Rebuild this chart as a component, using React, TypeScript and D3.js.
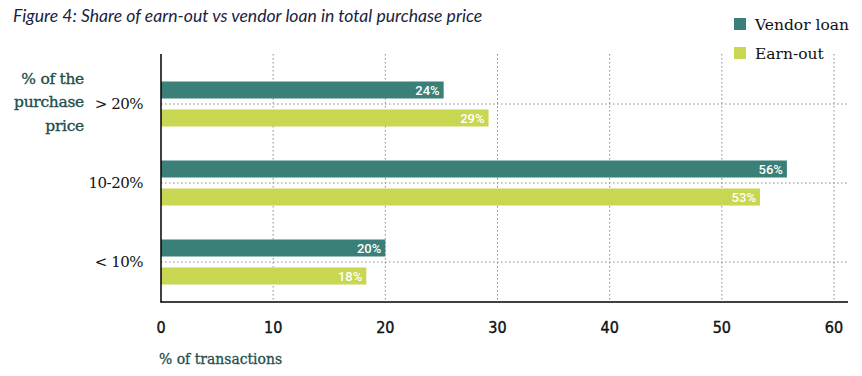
import React from "react";
import * as d3 from "d3";

const categories = ["> 20%", "10-20%", "< 10%"];
const vendorLoan = [25.2, 55.8, 20.0];
const earnOut = [29.2, 53.4, 18.3];
const vendorLabels = ["24%", "56%", "20%"];
const earnLabels = ["29%", "53%", "18%"];
const xTicks = [0, 10, 20, 30, 40, 50, 60];
const seriesNames = ["Vendor loan", "Earn-out"];
const colors = ["#3a8078", "#c8d651"];

const W = 862;
const H = 376;

export default function App() {
  const x = d3.scaleLinear().domain([0, 60]).range([161, 834]);
  const y = d3.scaleBand<string>().domain(categories).range([64.5, 301.5]);
  const top = 54;
  const bottom = 302;
  const barH = 17;
  const gap = 11;

  const series = [
    { vals: vendorLoan, labels: vendorLabels, color: colors[0], off: -gap / 2 - barH },
    { vals: earnOut, labels: earnLabels, color: colors[1], off: gap / 2 },
  ];

  return (
    <svg width={W} height={H} style={{ position: "absolute", left: 0, top: 0, background: "#fff" }}>
      <text x={13} y={22} fontFamily="Lato, 'Open Sans', sans-serif" fontStyle="italic" fontSize={17.6} fill="#1b2340">
        Figure 4: Share of earn-out vs vendor loan in total purchase price
      </text>

      {xTicks.slice(1).map((t) => (
        <line key={"vg" + t} x1={x(t)} x2={x(t)} y1={top} y2={bottom} stroke="#888" strokeWidth={1} strokeDasharray="1.5,2.5" />
      ))}
      {categories.map((c) => {
        const cy = (y(c) as number) + y.bandwidth() / 2;
        return <line key={"hg" + c} x1={161} x2={848} y1={cy} y2={cy} stroke="#888" strokeWidth={1} strokeDasharray="1.5,2.5" />;
      })}

      {series.map((s, si) =>
        categories.map((c, i) => {
          const cy = (y(c) as number) + y.bandwidth() / 2;
          const y0 = cy + s.off;
          return (
            <g key={si + "-" + c}>
              <rect x={x(0)} y={y0} width={x(s.vals[i]) - x(0)} height={barH} fill={s.color} />
              <text x={x(s.vals[i]) - 4} y={y0 + barH / 2} dy="0.36em" textAnchor="end" fontFamily="Roboto, sans-serif" fontWeight={500} fontSize={13} fill="#fff">
                {s.labels[i]}
              </text>
            </g>
          );
        })
      )}

      <line x1={161} x2={161} y1={top} y2={bottom + 0.5} stroke="#000" strokeWidth={1.5} />
      <line x1={160.5} x2={848} y1={bottom} y2={bottom} stroke="#000" strokeWidth={1.5} />

      {categories.map((c) => {
        const cy = (y(c) as number) + y.bandwidth() / 2;
        return (
          <text key={"cl" + c} x={143} y={cy} dy="0.36em" textAnchor="end" fontFamily="'DejaVu Serif', serif" fontSize={15} fill="#111" letterSpacing={-0.5}>
            {c}
          </text>
        );
      })}

      {["% of the", "purchase", "price"].map((t, i) => (
        <text key={"yt" + i} x={84} y={78 + i * 23.5} dy="0.36em" textAnchor="end" fontFamily="'DejaVu Serif', serif" fontSize={15.5} fill="#234f4b" stroke="#234f4b" strokeWidth={0.35} letterSpacing={-0.3}>
          {t}
        </text>
      ))}

      {xTicks.map((t) => (
        <text key={"xt" + t} x={x(t)} y={327} dy="0.36em" textAnchor="middle" fontFamily="'DejaVu Sans Condensed', sans-serif" fontSize={16} fill="#111" stroke="#111" strokeWidth={0.4}>
          {t}
        </text>
      ))}
      <text x={159} y={358} dy="0.36em" fontFamily="'DejaVu Serif Condensed', 'DejaVu Serif', serif" fontSize={15.5} fill="#234f4b" stroke="#234f4b" strokeWidth={0.3}>
        % of transactions
      </text>

      {seriesNames.map((n, i) => (
        <g key={"lg" + n} transform={`translate(734, ${18 + i * 29})`}>
          <rect x={0} y={0} width={12} height={12} fill={colors[i]} />
          <text x={21} y={6} dy="0.36em" fontFamily="'DejaVu Serif', serif" fontSize={15.5} fill="#111">
            {n}
          </text>
        </g>
      ))}
    </svg>
  );
}
